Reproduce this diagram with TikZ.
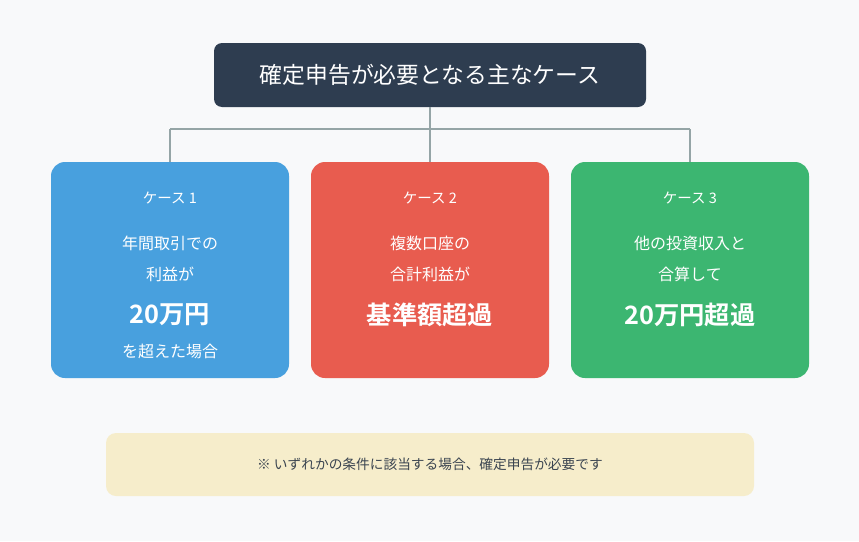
\documentclass[tikz,border=0pt]{standalone}
\usepackage{fontspec}
\setmainfont{Noto Sans CJK JP}[BoldFont={* Bold}]
\definecolor{bgc}{HTML}{F8F9FA}
\definecolor{titlec}{HTML}{2E3D50}
\definecolor{linec}{HTML}{95A5A6}
\definecolor{bluec}{HTML}{48A0DE}
\definecolor{redc}{HTML}{E85C4F}
\definecolor{greenc}{HTML}{3CB671}
\definecolor{notec}{HTML}{F6EDCB}
\definecolor{notetext}{HTML}{3A4450}
\tikzset{
  casebox/.style={rounded corners=14pt, minimum width=238pt, minimum height=216pt, inner sep=0pt},
  caselabel/.style={text=white, font=\fontsize{14.5}{16}\selectfont},
  caseline/.style={text=white, font=\fontsize{16}{18}\selectfont},
  casebig/.style={text=white, font=\bfseries\fontsize{25.3}{28}\selectfont},
  conn/.style={draw=linec, line width=2pt}
}
\begin{document}
\begin{tikzpicture}[x=1pt,y=-1pt]
\fill[bgc] (0,0) rectangle (859,541);
\useasboundingbox (0,0) rectangle (859,541);
% title
\node[fill=titlec, rounded corners=8pt, minimum width=432pt, minimum height=64pt, inner sep=0pt,
      text=white, font=\fontsize{22.8}{26}\selectfont] (title) at (430,75) {確定申告が必要となる主なケース};
% boxes
\node[casebox, fill=bluec] (b1) at (170,270) {};
\node[casebox, fill=redc] (b2) at (430,270) {};
\node[casebox, fill=greenc] (b3) at (690,270) {};
% connectors
\coordinate (hj) at (430,129);
\coordinate (hl) at (170,129);
\coordinate (hr) at (690,129);
\draw[conn] (title.south) -- (hj);
\draw[conn] (hl) -- (hr);
\draw[conn] (hl) -- (b1.north);
\draw[conn] (hj) -- (b2.north);
\draw[conn] (hr) -- (b3.north);
% box 1 text
\node[caselabel] (l1) at (170,198) {ケース 1};
\node[caseline] (t1a) at (170,243) {年間取引での};
\node[caseline] (t1b) at (170,274) {利益が};
\node[casebig] (t1c) at (170,315) {20万円};
\node[caseline] (t1d) at (170,351) {を超えた場合};
% box 2 text
\node[caselabel] (l2) at (430,198) {ケース 2};
\node[caseline] (t2a) at (430,243) {複数口座の};
\node[caseline] (t2b) at (430,274) {合計利益が};
\node[casebig] (t2c) at (430,315) {基準額超過};
% box 3 text
\node[caselabel] (l3) at (690,198) {ケース 3};
\node[caseline] (t3a) at (690,243) {他の投資収入と};
\node[caseline] (t3b) at (690,274) {合算して};
\node[casebig] (t3c) at (690,315) {20万円超過};
% note
\node[fill=notec, rounded corners=10pt, minimum width=648pt, minimum height=63pt, inner sep=0pt,
      text=notetext, font=\fontsize{13.7}{16}\selectfont] (note) at (430,464.5) {※ いずれかの条件に該当する場合、確定申告が必要です};
\end{tikzpicture}
\end{document}
